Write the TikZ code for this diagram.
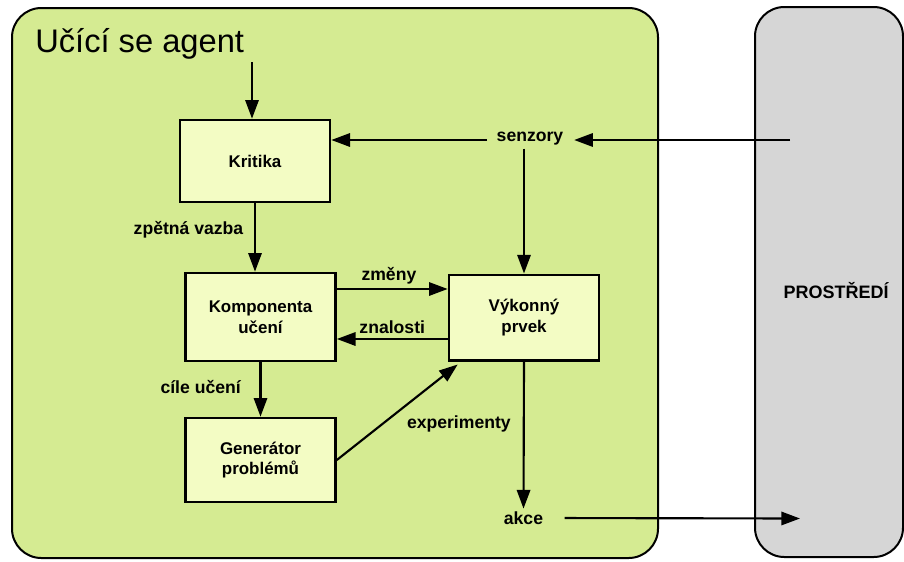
\documentclass[tikz,border=0pt]{standalone}
\usepackage{fontspec}
\setmainfont{Liberation Sans}
\usetikzlibrary{arrows.meta, calc}
\definecolor{agentfill}{RGB}{213,235,146}
\definecolor{boxfill}{RGB}{243,252,196}
\definecolor{envfill}{RGB}{214,214,214}
\colorlet{linecolor}{black}
\tikzset{
  panel/.style={
    draw=linecolor,
    line width=1.5pt,
    rounded corners=22pt
  },
  agentpanel/.style={panel, fill=agentfill},
  envpanel/.style={panel, fill=envfill},
  box/.style={
    draw=linecolor,
    line width=2pt,
    fill=boxfill,
    minimum width=112.5pt,
    align=center,
    inner sep=0pt,
    font=\fontsize{12.7}{15.5}\selectfont\bfseries
  },
  arr/.style={-{Triangle[length=14pt,width=10pt]}, line width=1.6pt, draw=linecolor},
  note/.style={font=\fontsize{13.2}{15.5}\selectfont\bfseries, inner sep=2pt}
}

\begin{document}
\begin{tikzpicture}[x=0.75pt, y=-0.75pt]
\useasboundingbox (0,0) rectangle (904,561);

\draw[agentpanel] (12,8) rectangle (658,558);
\draw[envpanel] (755,7) rectangle (903,557);

\node[anchor=base west, inner sep=0pt, font=\fontsize{24.5}{29}\selectfont] (title) at (35,52) {Učící se agent};
\node[font=\fontsize{13.5}{16}\selectfont\bfseries] (prostredi) at (836,291) {PROSTŘEDÍ};

\node[box, minimum height=61.5pt] (kritika) at (255,161) {Kritika};
\node[box, minimum height=66pt] (komponenta) at (260.5,317) {Komponenta\\učení};
\node[box, minimum height=64pt] (vykonny) at (524,317.5) {Výkonný\\prvek};
\node[box, minimum height=63pt] (generator) at (260.5,460) {Generátor\\problémů};

\node[note] (senzory) at (530,139) {senzory};
\node[note] (akce) at (523.5,518) {akce};

\coordinate (kritikain) at (252,62);
\coordinate (envin) at (790,140);
\coordinate (envout) at (800,518.5);

\draw[arr] (kritikain) -- (kritikain |- kritika.north);
\draw[arr] (envin) -- ($(senzory.east |- envin)+(8,0)$);
\draw[arr, shorten <=5pt] (senzory.west |- envin) -- (kritika.east |- envin);
\draw[arr] (vykonny.north |- senzory.south) -- (vykonny.north);

\draw[arr] (kritika.south) -- node[note, left=6pt, pos=0.38] {zpětná vazba} (kritika.south |- komponenta.north);
\draw[arr] ($(komponenta.east)+(0,-28)$) -- node[note, above=1pt, pos=0.47] {změny} ($(vykonny.west)+(0,-28.5)$);
\draw[arr] ($(vykonny.west)+(0,21.5)$) -- node[note, above=1pt, pos=0.5] {znalosti} ($(komponenta.east)+(0,22)$);
\draw[arr] (komponenta.south) -- node[note, left=12pt, pos=0.45] {cíle učení} (generator.north);
\draw[arr] (generator.east) -- node[note, pos=0.55, anchor=north west, xshift=0pt, yshift=-3.5pt] {experimenty} ($(vykonny.south west)+(10,3)$);
\draw[arr] (vykonny.south) -- (akce.north);
\draw[arr, shorten <=14pt] (akce.east) -- (envout);

\end{tikzpicture}
\end{document}
